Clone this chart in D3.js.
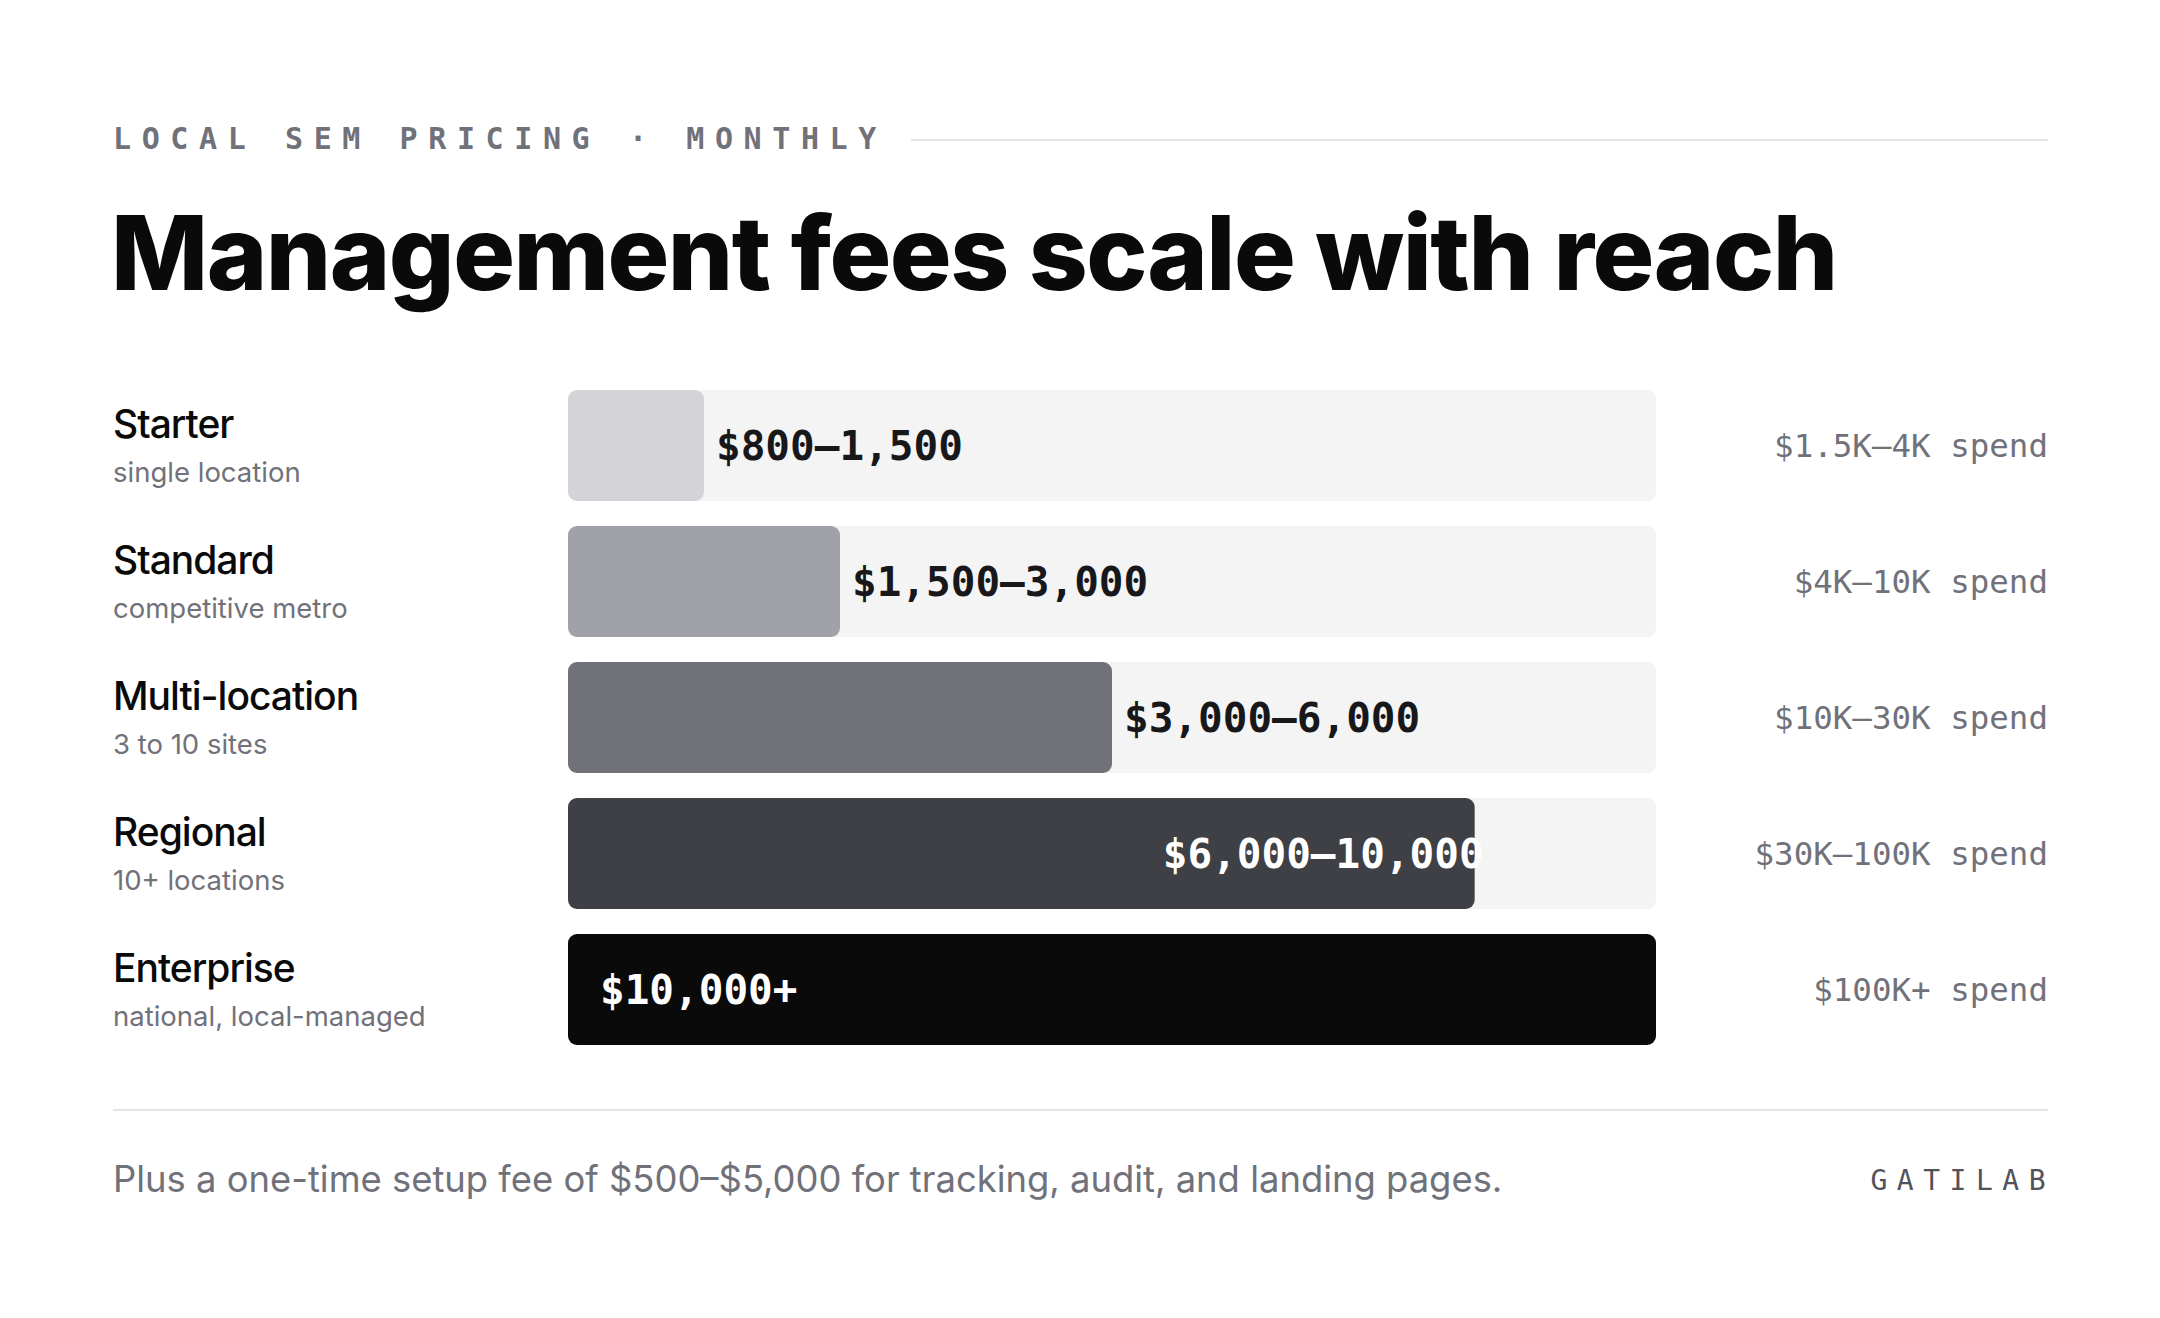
<!DOCTYPE html>
<html>
<head>
<meta charset="utf-8">
<script src="https://cdn.jsdelivr.net/npm/d3@7"></script>
<style>
  html, body { margin: 0; padding: 0; background: #fff; }
  svg { display: block; }
</style>
</head>
<body>
<div id="chart"></div>
<script>
// tiers, top to bottom
var tiers = ["Starter", "Standard", "Multi-location", "Regional", "Enterprise"];
var tierNotes = ["single location", "competitive metro", "3 to 10 sites", "10+ locations", "national, local-managed"];
// monthly management fee range (USD); enterprise is open ended
var feeLow = [800, 1500, 3000, 6000, 10000];
var feeHigh = [1500, 3000, 6000, 10000, null];
var feeLabels = ["$800–1,500", "$1,500–3,000", "$3,000–6,000", "$6,000–10,000", "$10,000+"];
var spendLabels = ["$1.5K–4K spend", "$4K–10K spend", "$10K–30K spend", "$30K–100K spend", "$100K+ spend"];
var barColors = ["#d4d4d8", "#a1a1aa", "#71717a", "#3f3f46", "#0a0a0b"];
var feeMax = 12000;

var W = 2160, H = 1318;
var margin = { left: 113, right: 112 };
var mono = "'DejaVu Sans Mono', monospace";
var sans = "Inter, 'Noto Sans', sans-serif";

var rows = tiers.map(function (t, i) {
	return { tier: t, note: tierNotes[i], lo: feeLow[i], hi: feeHigh[i], label: feeLabels[i], spend: spendLabels[i], color: barColors[i] };
});

var svg = d3.select('#chart')
	.append('svg')
	.attr('width', W)
	.attr('height', H);

// header
svg.append('text')
	.attr('x', margin.left)
	.attr('y', 149)
	.attr('font-family', mono)
	.attr('font-weight', 700)
	.attr('font-size', 30)
	.attr('letter-spacing', '10.6px')
	.attr('fill', '#71717a')
	.text('LOCAL SEM PRICING · MONTHLY');

svg.append('line')
	.attr('x1', 911).attr('x2', W - margin.right)
	.attr('y1', 140).attr('y2', 140)
	.attr('stroke', '#e4e4e7')
	.attr('stroke-width', 2);

svg.append('text')
	.attr('x', margin.left - 2)
	.attr('y', 290)
	.attr('font-family', sans)
	.attr('font-weight', 800)
	.attr('font-size', 103)
	.attr('letter-spacing', '-1.5px')
	.attr('fill', '#0a0a0b')
	.text('Management fees scale with reach');

// scales
var x = d3.scaleLinear()
	.domain([0, feeMax])
	.range([568, 1656]);

var y = d3.scaleBand()
	.domain(tiers)
	.range([390, 1045])
	.paddingInner(0.184)
	.paddingOuter(0);

function inside(d) {
	return d.hi == null || x(d.hi) - x(0) > 0.6 * (x(feeMax) - x(0));
}

var row = svg.append('g')
	.attr('class', 'rows')
	.selectAll('g')
	.data(rows)
	.enter().append('g')
	.attr('transform', function (d) { return 'translate(0,' + y(d.tier) + ')'; });

// track
row.append('rect')
	.attr('x', x(0))
	.attr('width', x(feeMax) - x(0))
	.attr('height', y.bandwidth())
	.attr('rx', 9)
	.attr('fill', '#f4f4f5');

// fee bar
row.append('rect')
	.attr('x', x(0))
	.attr('width', function (d) { return x(d.hi == null ? feeMax : d.hi) - x(0); })
	.attr('height', y.bandwidth())
	.attr('rx', 9)
	.attr('fill', function (d) { return d.color; });

// fee label: outside for short bars, inside for long ones
row.append('text')
	.attr('x', function (d) {
		if (d.hi == null) return x(0) + 32;
		if (inside(d)) return x(d.hi) + 9;
		return x(d.hi) + 12;
	})
	.attr('text-anchor', function (d) { return (d.hi != null && inside(d)) ? 'end' : 'start'; })
	.attr('y', y.bandwidth() / 2)
	.attr('dy', '0.36em')
	.attr('font-family', mono)
	.attr('font-weight', 700)
	.attr('font-size', 41)
	.attr('fill', function (d) { return inside(d) ? '#ffffff' : '#18181b'; })
	.text(function (d) { return d.label; });

// tier name + note
row.append('text')
	.attr('x', margin.left)
	.attr('y', 48)
	.attr('font-family', sans)
	.attr('font-weight', 500)
	.attr('font-size', 39)
	.attr('letter-spacing', '-1px')
	.attr('fill', '#0a0a0b')
	.text(function (d) { return d.tier; });

row.append('text')
	.attr('x', margin.left)
	.attr('y', 92)
	.attr('font-family', sans)
	.attr('font-size', 27.5)
	.attr('fill', '#71717a')
	.text(function (d) { return d.note; });

// ad spend on the right
row.append('text')
	.attr('x', W - margin.right)
	.attr('y', y.bandwidth() / 2)
	.attr('dy', '0.36em')
	.attr('text-anchor', 'end')
	.attr('font-family', mono)
	.attr('font-size', 32.5)
	.attr('fill', '#71717a')
	.text(function (d) { return d.spend; });

// footer
svg.append('line')
	.attr('x1', margin.left).attr('x2', W - margin.right)
	.attr('y1', 1110).attr('y2', 1110)
	.attr('stroke', '#e4e4e7')
	.attr('stroke-width', 2);

svg.append('text')
	.attr('x', margin.left)
	.attr('y', 1192)
	.attr('font-family', sans)
	.attr('font-size', 36.4)
	.attr('fill', '#71717a')
	.text('Plus a one-time setup fee of $500–$5,000 for tracking, audit, and landing pages.');

svg.append('text')
	.attr('x', W - margin.right + 7)
	.attr('y', 1190)
	.attr('text-anchor', 'end')
	.attr('font-family', mono)
	.attr('font-weight', 500)
	.attr('font-size', 28)
	.attr('letter-spacing', '9.5px')
	.attr('fill', '#52525b')
	.text('GATILAB');
</script>
</body>
</html>
